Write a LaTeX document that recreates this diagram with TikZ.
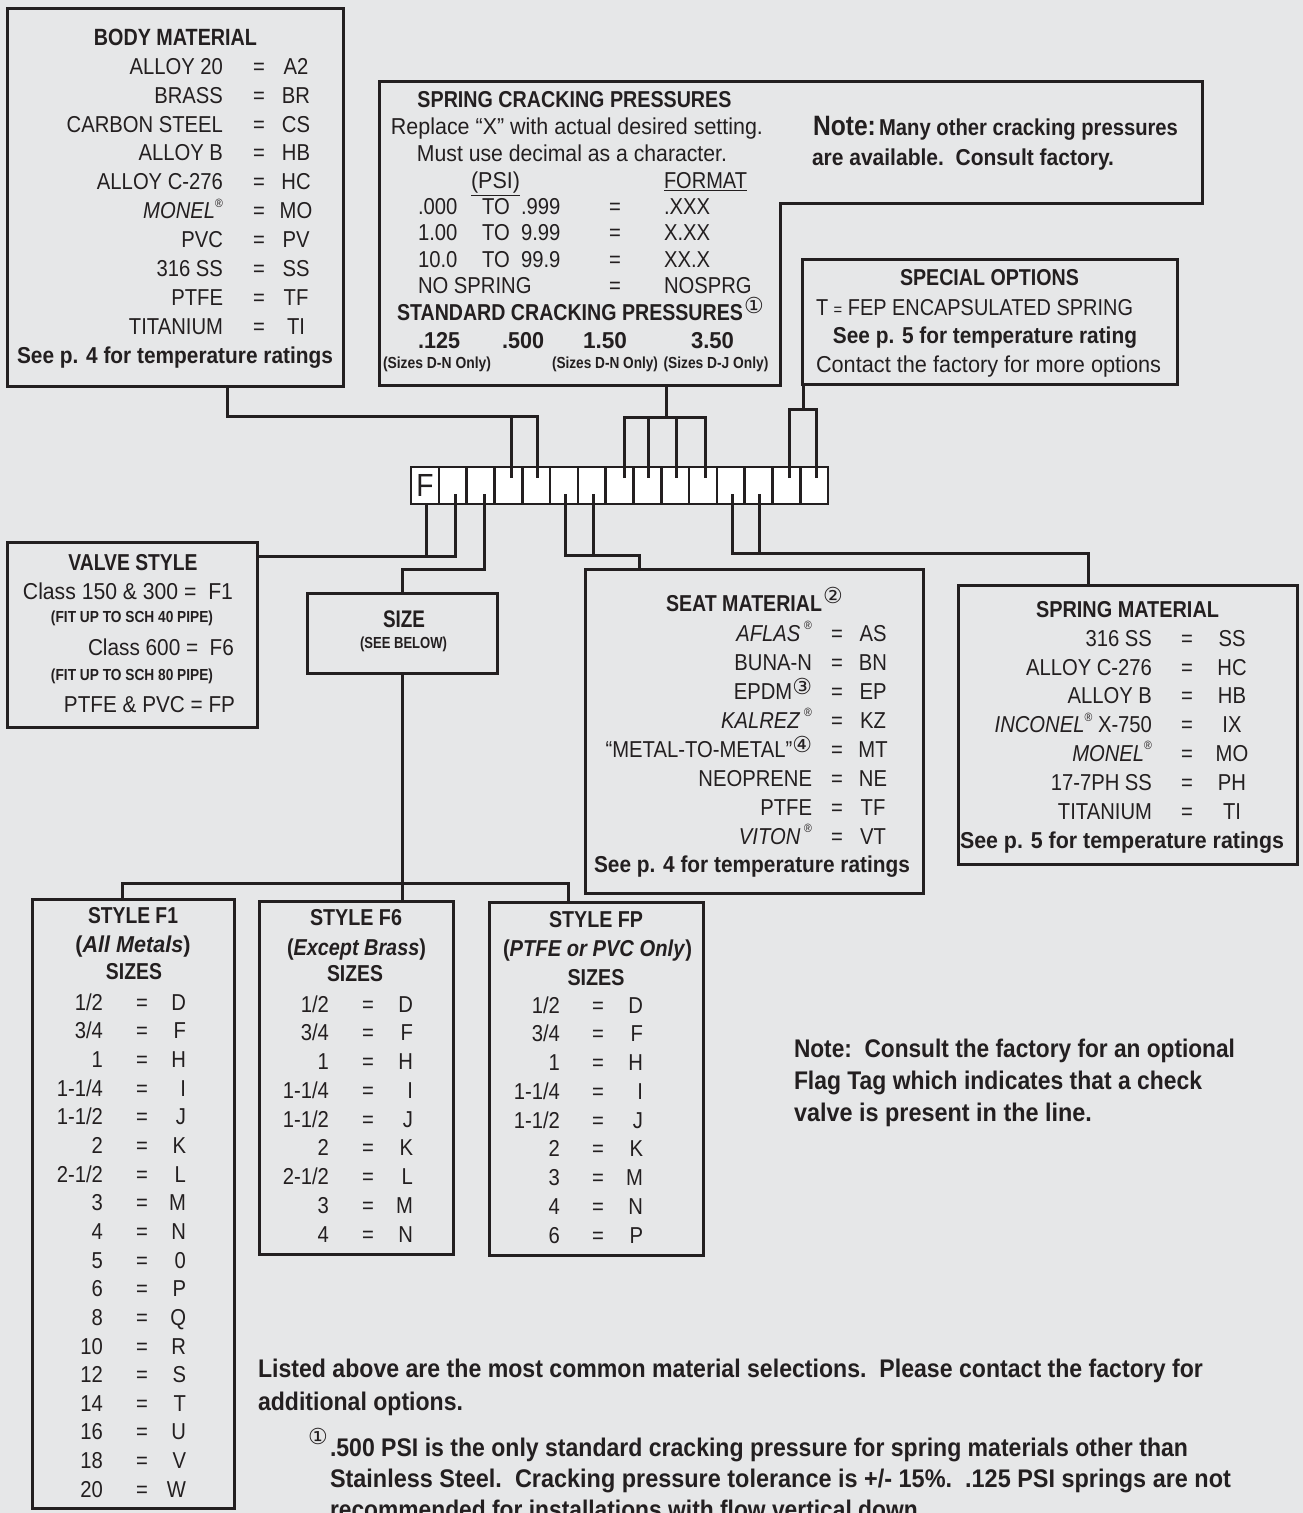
\documentclass[tikz,border=0pt]{standalone}
\usepackage{fontspec}
\usepackage{graphicx}
\setmainfont{Liberation Sans}[FakeStretch=0.88]
\newfontfamily\circfont{DejaVu Sans}
\definecolor{ink}{HTML}{231F20}
\definecolor{bgc}{HTML}{E6E7E8}
\newcommand\fs[1]{\fontsize{#1}{#1}\selectfont}
\newcommand\fitto[2]{\resizebox{#1pt}{\height}{#2}}
\newcommand\sla{/}
\newcommand\reg{\raisebox{.5em}{\fs{12}®}}
\newcommand\circn[1]{{\circfont\fs{22}#1}}
\tikzset{
  box/.style={draw=ink, line width=3pt, inner sep=0pt, outer sep=0pt},
  cell/.style={draw=ink, fill=white, line width=2.6pt, minimum width=27.8pt, minimum height=37pt, inner sep=0pt, outer sep=0pt},
  tx/.style={inner sep=0pt, outer sep=0pt, text=ink},
  conn/.style={draw=ink, line width=3pt},
}
\begin{document}
\begin{tikzpicture}[x=1pt,y=-1pt]
\fill[bgc] (0,0) rectangle (1303,1513);
\useasboundingbox (0,0) rectangle (1303,1513);

% ---------- boxes ----------
\node[box, minimum width=336pt, minimum height=378pt] (body) at (175,197) {};
\node[inner sep=0pt, outer sep=0pt, minimum width=401pt, minimum height=304pt] (spring) at (579.5,233) {};
\draw[ink, line width=3pt] (379,81) -- (1202,81) -- (1202,203) -- (780,203) -- (780,385) -- (379,385) -- cycle;
\node[box, minimum width=375pt, minimum height=125pt] (special) at (989.5,321.5) {};
\node[box, minimum width=250pt, minimum height=185pt] (valve) at (132,634.5) {};
\node[box, minimum width=190pt, minimum height=80pt] (size) at (402,633) {};
\node[box, minimum width=338pt, minimum height=324pt] (seat) at (754,731) {};
\node[box, minimum width=339pt, minimum height=279pt] (spmat) at (1127.5,724.5) {};
\node[box, minimum width=202pt, minimum height=609pt] (f1) at (133,1203.5) {};
\node[box, minimum width=194pt, minimum height=353pt] (f6) at (356,1077.5) {};
\node[box, minimum width=214pt, minimum height=353pt] (fp) at (596,1078.5) {};

% ---------- code strip ----------
\node[cell, font={\fs{32}}, text=ink] (c0) at (424.9,485.5) {F};
\foreach \i in {1,...,14} { \node[cell] (c\i) at (424.9+27.8*\i,485.5) {}; }

% stub points
\coordinate (t3) at ([xshift=3pt,yshift=-11pt]c3.north);
\coordinate (t4) at ([xshift=1pt,yshift=-11pt]c4.north);
\coordinate (t7) at ([xshift=4.5pt,yshift=-11pt]c7.north);
\coordinate (t8) at ([xshift=1.5pt,yshift=-11pt]c8.north);
\coordinate (t9) at ([xshift=1.5pt,yshift=-11pt]c9.north);
\coordinate (t10) at ([xshift=3pt,yshift=-11pt]c10.north);
\coordinate (t13) at ([xshift=3pt,yshift=-11pt]c13.north);
\coordinate (t14) at ([xshift=2pt,yshift=-11pt]c14.north);
\coordinate (b0) at ([xshift=2pt]c0.south);
\coordinate (b1) at ([xshift=3pt,yshift=10pt]c1.south);
\coordinate (b2) at ([xshift=3.5pt,yshift=10pt]c2.south);
\coordinate (b5) at ([xshift=1.5pt,yshift=10pt]c5.south);
\coordinate (b6) at ([xshift=2pt,yshift=10pt]c6.south);
\coordinate (b11) at ([xshift=2pt,yshift=10pt]c11.south);
\coordinate (b12) at ([xshift=0.5pt,yshift=10pt]c12.south);
% bus levels
\coordinate (busB) at (0,416);
\coordinate (busS) at (0,417);
\coordinate (busO) at (0,409);
\coordinate (busV) at (0,556);
\coordinate (busZ) at (0,569);
\coordinate (busSe) at (0,555);
\coordinate (busM) at (0,553);
\coordinate (busT) at (0,883);
% box ports
\coordinate (bodyout) at ([xshift=52pt]body.south);
\coordinate (springout) at ([xshift=86.5pt]spring.south);
\coordinate (specout) at ([xshift=1pt]special.south west);
\coordinate (seatin) at ([xshift=-115pt]seat.north);
\coordinate (spin) at ([xshift=-39.5pt]spmat.north);
\coordinate (f1in) at ([xshift=-11pt]f1.north);
\coordinate (fpin) at ([xshift=-28pt]fp.north);
\coordinate (f6in) at (size.south |- f6.north);

% ---------- connectors ----------
\draw[conn] (bodyout) |- (busB -| t4) -- (t4);
\draw[conn] (busB -| t3) -- (t3);
\draw[conn] (springout) -- (springout |- busS);
\draw[conn] (t7) |- (busS -| t10) -- (t10);
\draw[conn] (busS -| t8) -- (t8);
\draw[conn] (busS -| t9) -- (t9);
\draw[conn] (specout) -- (specout |- busO);
\draw[conn] (t13) |- (busO -| t14) -- (t14);
\draw[conn] (b1) |- (valve.east |- busV);
\draw[conn] (b0) -- (b0 |- busV);
\draw[conn] (b2) |- (size.north |- busZ) -- (size.north);
\draw[conn] (size.south) -- (f6in);
\draw[conn] (f1in) |- (busT -| fpin) -- (fpin);
\draw[conn] (b5) |- (busSe -| seatin) -- (seatin);
\draw[conn] (b6) -- (b6 |- busSe);
\draw[conn] (b11) |- (busM -| spin) -- (spin);
\draw[conn] (b12) -- (b12 |- busM);

% ---------- body material ----------
\node[tx, anchor=base] (bmt) at (175.5,45.5) {\fitto{163}{\fs{23.5}\bfseries BODY MATERIAL}};
\foreach \a/\c [count=\i from 0] in {ALLOY 20/A2, BRASS/BR, CARBON STEEL/CS, ALLOY B/HB, ALLOY C-276/HC, \textit{MONEL}\reg/MO, PVC/PV, 316 SS/SS, PTFE/TF, TITANIUM/TI}{
  \node[tx, anchor=base east, font={\fs{23}}] (bml\i) at (223,74.2+28.9*\i) {\a};
  \node[tx, anchor=base, font={\fs{23}}] (bme\i) at (259,74.2+28.9*\i) {=};
  \node[tx, anchor=base, font={\fs{23}}] (bmc\i) at (296,74.2+28.9*\i) {\c};
}
\node[tx, anchor=base] (bms) at (175,363.2) {\fitto{316}{\fs{23}\bfseries See p. 4 for temperature ratings}};

% ---------- spring cracking pressures ----------
\node[tx, anchor=base] (sct) at (574.5,107.2) {\fitto{314}{\fs{23}\bfseries SPRING CRACKING PRESSURES}};
\node[tx, anchor=base] (sc1) at (577,134.2) {\fitto{372}{\fs{23}Replace “X” with actual desired setting.}};
\node[tx, anchor=base] (sc2) at (572,161.2) {\fitto{310}{\fs{23}Must use decimal as a character.}};
\node[tx, anchor=base] (scpsi) at (495.5,188.8) {\fitto{49}{\fs{23}\underline{(PSI)}}};
\node[tx, anchor=base west] (scfmt) at (664,188.8) {\fitto{83}{\fs{23}\underline{FORMAT}}};
\foreach \a/\b/\f [count=\i from 0] in {.000/.999/.XXX, 1.00/9.99/X.XX, 10.0/99.9/XX.X}{
  \node[tx, anchor=base west, font={\fs{23}}] (sa\i) at (418,214.2+26.5*\i) {\a};
  \node[tx, anchor=base west, font={\fs{23}}] (so\i) at (482,214.2+26.5*\i) {TO};
  \node[tx, anchor=base west, font={\fs{23}}] (sb\i) at (521,214.2+26.5*\i) {\b};
  \node[tx, anchor=base, font={\fs{23}}] (se\i) at (615,214.2+26.5*\i) {=};
  \node[tx, anchor=base west, font={\fs{23}}] (sf\i) at (664,214.2+26.5*\i) {\f};
}
\node[tx, anchor=base west, font={\fs{23}}] (sns) at (418,293.7) {NO SPRING};
\node[tx, anchor=base, font={\fs{23}}] (sne) at (615,293.7) {=};
\node[tx, anchor=base west, font={\fs{23}}] (snf) at (664,293.7) {NOSPRG};
\node[tx, anchor=base] (sst) at (570,320.2) {\fitto{346}{\fs{23}\bfseries STANDARD CRACKING PRESSURES}};
\node[tx, text=ink] (ssc) at (754,305) {\circn{①}};
\node[tx, anchor=base] (p1) at (439,348.2) {\fitto{42}{\fs{23}\bfseries .125}};
\node[tx, anchor=base] (p2) at (523,348.2) {\fitto{42}{\fs{23}\bfseries .500}};
\node[tx, anchor=base] (p3) at (605,348.2) {\fitto{44}{\fs{23}\bfseries 1.50}};
\node[tx, anchor=base] (p4) at (712.5,348.2) {\fitto{43}{\fs{23}\bfseries 3.50}};
\node[tx, anchor=base] (q1) at (437,368.7) {\fitto{108}{\fs{16}\bfseries (Sizes D-N Only)}};
\node[tx, anchor=base] (q3) at (605,368.7) {\fitto{106}{\fs{16}\bfseries (Sizes D-N Only)}};
\node[tx, anchor=base] (q4) at (716,368.7) {\fitto{105}{\fs{16}\bfseries (Sizes D-J Only)}};

% note in top right
\node[tx, anchor=base west] (nt1) at (813,135.2) {\fitto{365}{\bfseries{\fs{28}Note:} \fs{23}Many other cracking pressures}};
\node[tx, anchor=base west] (nt2) at (812,165.2) {\fitto{302}{\fs{23}\bfseries are available.\ \ Consult factory.}};

% ---------- special options ----------
\node[tx, anchor=base] (spt) at (989.5,285.2) {\fitto{179}{\fs{23}\bfseries SPECIAL OPTIONS}};
\node[tx, anchor=base west] (sp1) at (816,315.2) {\fitto{317}{\fs{23}T {\fs{17}=} FEP ENCAPSULATED SPRING}};
\node[tx, anchor=base] (sp2) at (985,343.2) {\fitto{304}{\fs{23}\bfseries See p. 5 for temperature rating}};
\node[tx, anchor=base west] (sp3) at (816,372.2) {\fitto{345}{\fs{23}Contact the factory for more options}};

% ---------- valve style ----------
\node[tx, anchor=base] (vst) at (133,570.2) {\fitto{129}{\fs{23}\bfseries VALVE STYLE}};
\node[tx, anchor=base east] (vs1) at (233,599.2) {\fitto{210}{\fs{23}Class 150 \& 300 =\ \ F1}};
\node[tx, anchor=base] (vs1n) at (132,622.7) {\fitto{162}{\fs{16}\bfseries (FIT UP TO SCH 40 PIPE)}};
\node[tx, anchor=base east] (vs2) at (234,655.2) {\fitto{146}{\fs{23}Class 600 =\ \ F6}};
\node[tx, anchor=base] (vs2n) at (132,680.7) {\fitto{162}{\fs{16}\bfseries (FIT UP TO SCH 80 PIPE)}};
\node[tx, anchor=base east] (vs3) at (235,712.2) {\fitto{171}{\fs{23}PTFE \& PVC = FP}};

% ---------- size ----------
\node[tx, anchor=base] (szt) at (404,627.5) {\fitto{42}{\fs{24}\bfseries SIZE}};
\node[tx, anchor=base] (szn) at (403.5,648.7) {\fitto{87}{\fs{16}\bfseries (SEE BELOW)}};

% ---------- seat material ----------
\node[tx, anchor=base west] (smt) at (666,611.2) {\fitto{156}{\fs{23}\bfseries SEAT MATERIAL}};
\node[tx] (smc) at (833,595) {\circn{②}};
\foreach \a/\c [count=\i from 0] in {\textit{AFLAS}\,\reg/AS, BUNA-N/BN, EPDM\raisebox{5pt}{\circn{③}}/EP, \textit{KALREZ}\,\reg/KZ, “METAL-TO-METAL”\raisebox{5pt}{\circn{④}}/MT, NEOPRENE/NE, PTFE/TF, \textit{VITON}\,\reg/VT}{
  \node[tx, anchor=base east, font={\fs{23}}] (sml\i) at (812,641.2+29*\i) {\a};
  \node[tx, anchor=base, font={\fs{23}}] (sme\i) at (837,641.2+29*\i) {=};
  \node[tx, anchor=base, font={\fs{23}}] (smd\i) at (873,641.2+29*\i) {\c};
}
\node[tx, anchor=base] (sms) at (752,872.2) {\fitto{316}{\fs{23}\bfseries See p. 4 for temperature ratings}};

% ---------- spring material ----------
\node[tx, anchor=base] (spmt) at (1127.5,617.2) {\fitto{183}{\fs{23}\bfseries SPRING MATERIAL}};
\foreach \a/\c [count=\i from 0] in {316 SS/SS, ALLOY C-276/HC, ALLOY B/HB, \textit{INCONEL}\reg\ X-750/IX, \textit{MONEL}\reg/MO, 17-7PH SS/PH, TITANIUM/TI}{
  \node[tx, anchor=base east, font={\fs{23}}] (pml\i) at (1152,646.2+28.8*\i) {\a};
  \node[tx, anchor=base, font={\fs{23}}] (pme\i) at (1187,646.2+28.8*\i) {=};
  \node[tx, anchor=base, font={\fs{23}}] (pmd\i) at (1232,646.2+28.8*\i) {\c};
}
\node[tx, anchor=base] (pms) at (1122,848.2) {\fitto{324}{\fs{23}\bfseries See p. 5 for temperature ratings}};

% ---------- style F1 ----------
\node[tx, anchor=base] (f1a) at (133,923.2) {\fitto{90}{\fs{23}\bfseries STYLE F1}};
\node[tx, anchor=base] (f1b) at (133,952.2) {\fitto{115}{\fs{23}\bfseries (\textit{All Metals})}};
\node[tx, anchor=base] (f1c) at (134,979.2) {\fitto{56}{\fs{23}\bfseries SIZES}};
\foreach \a/\c [count=\i from 0] in {1\sla 2/D, 3\sla 4/F, 1/H, 1-1\sla 4/I, 1-1\sla 2/J, 2/K, 2-1\sla 2/L, 3/M, 4/N, 5/0, 6/P, 8/Q, 10/R, 12/S, 14/T, 16/U, 18/V, 20/W}{
  \node[tx, anchor=base east, font={\fs{23}}] (fal\i) at (103,1010.2+28.65*\i) {\a};
  \node[tx, anchor=base, font={\fs{23}}] (fae\i) at (142,1010.2+28.65*\i) {=};
  \node[tx, anchor=base east, font={\fs{23}}] (fac\i) at (186,1010.2+28.65*\i) {\c};
}

% ---------- style F6 ----------
\node[tx, anchor=base] (f6a) at (356,925.2) {\fitto{92}{\fs{23}\bfseries STYLE F6}};
\node[tx, anchor=base] (f6b) at (356.5,955.2) {\fitto{139}{\fs{23}\bfseries (\textit{Except Brass})}};
\node[tx, anchor=base] (f6c) at (355,981.2) {\fitto{56}{\fs{23}\bfseries SIZES}};
\foreach \a/\c [count=\i from 0] in {1\sla 2/D, 3\sla 4/F, 1/H, 1-1\sla 4/I, 1-1\sla 2/J, 2/K, 2-1\sla 2/L, 3/M, 4/N}{
  \node[tx, anchor=base east, font={\fs{23}}] (fbl\i) at (329,1012.2+28.75*\i) {\a};
  \node[tx, anchor=base, font={\fs{23}}] (fbe\i) at (368,1012.2+28.75*\i) {=};
  \node[tx, anchor=base east, font={\fs{23}}] (fbc\i) at (413,1012.2+28.75*\i) {\c};
}

% ---------- style FP ----------
\node[tx, anchor=base] (fpa) at (596,927.2) {\fitto{94}{\fs{23}\bfseries STYLE FP}};
\node[tx, anchor=base] (fpb) at (597.5,956.2) {\fitto{189}{\fs{23}\bfseries (\textit{PTFE or PVC Only})}};
\node[tx, anchor=base] (fpc) at (596,985.2) {\fitto{57}{\fs{23}\bfseries SIZES}};
\foreach \a/\c [count=\i from 0] in {1\sla 2/D, 3\sla 4/F, 1/H, 1-1\sla 4/I, 1-1\sla 2/J, 2/K, 3/M, 4/N, 6/P}{
  \node[tx, anchor=base east, font={\fs{23}}] (fcl\i) at (560,1013.2+28.75*\i) {\a};
  \node[tx, anchor=base, font={\fs{23}}] (fce\i) at (598,1013.2+28.75*\i) {=};
  \node[tx, anchor=base east, font={\fs{23}}] (fcc\i) at (643,1013.2+28.75*\i) {\c};
}

% ---------- notes ----------
\node[tx, anchor=base west] (n1) at (794,1057) {\fitto{441}{\fs{25.5}\bfseries Note:\ \ Consult the factory for an optional}};
\node[tx, anchor=base west] (n2) at (794,1089) {\fitto{408}{\fs{25.5}\bfseries Flag Tag which indicates that a check}};
\node[tx, anchor=base west] (n3) at (794,1121) {\fitto{298}{\fs{25.5}\bfseries valve is present in the line.}};
\node[tx, anchor=base west] (l1) at (258,1377) {\fitto{945}{\fs{25.5}\bfseries Listed above are the most common material selections.\ \ Please contact the factory for}};
\node[tx, anchor=base west] (l2) at (258,1410) {\fitto{205}{\fs{25.5}\bfseries additional options.}};
\node[tx] (fn1c) at (318,1436) {\circn{①}};
\node[tx, anchor=base west] (fn1) at (330,1456) {\fitto{858}{\fs{25.5}\bfseries .500 PSI is the only standard cracking pressure for spring materials other than}};
\node[tx, anchor=base west] (fn2) at (330,1487) {\fitto{901}{\fs{25.5}\bfseries Stainless Steel.\ \ Cracking pressure tolerance is +/- 15\%.\ \ .125 PSI springs are not}};
\node[tx, anchor=base west] (fn3) at (330,1518) {\fitto{594}{\fs{25.5}\bfseries recommended for installations with flow vertical down.}};
\end{tikzpicture}
\end{document}
